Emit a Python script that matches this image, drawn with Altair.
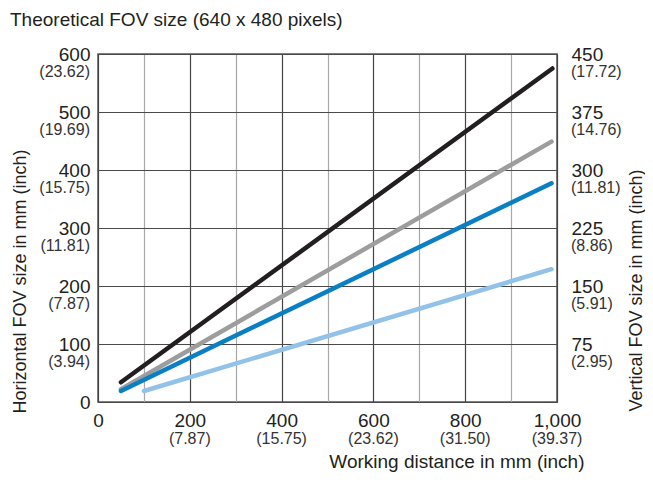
import altair as alt
import pandas as pd

# ---- data ----
series_names = ["Series 1", "Series 2", "Series 3", "Series 4"]
series_colors = ["#231f20", "#9d9d9d", "#0a7fc4", "#92c2e8"]
start_dist = [50, 50, 50, 100]
end_dist = [990, 988, 988, 988]
start_fov = [34, 22, 19, 19]
end_fov = [575, 449, 377, 229]

x_ticks = [0, 100, 200, 300, 400, 500, 600, 700, 800, 900, 1000]
x_inch_vals = [200, 400, 600, 800, 1000]
x_inch_labels = ["(7.87)", "(15.75)", "(23.62)", "(31.50)", "(39.37)"]

left_ticks = [0, 100, 200, 300, 400, 500, 600]
left_inch_vals = [100, 200, 300, 400, 500, 600]
left_inch_labels = ["(3.94)", "(7.87)", "(11.81)", "(15.75)", "(19.69)", "(23.62)"]

right_ticks = [0, 75, 150, 225, 300, 375, 450]
right_inch_vals = [75, 150, 225, 300, 375, 450]
right_inch_labels = ["(2.95)", "(5.91)", "(8.86)", "(11.81)", "(14.76)", "(17.72)"]

FONT = "Liberation Sans"
W, H = 459, 348

rows = []
for n, d0, d1, v0, v1 in zip(series_names, start_dist, end_dist, start_fov, end_fov):
    rows.append({"series": n, "d": d0, "v": v0})
    rows.append({"series": n, "d": d1, "v": v1})
lines_df = pd.DataFrame(rows)

xscale = alt.Scale(domain=[0, 1000], nice=False, zero=True)
yscale = alt.Scale(domain=[0, 600], nice=False, zero=True)
yscale_r = alt.Scale(domain=[0, 450], nice=False, zero=True)

x_axis = alt.Axis(
    values=x_ticks,
    labelExpr="datum.value % 200 === 0 ? format(datum.value, ',') : ''",
    title="Working distance in mm (inch)",
    titleFont=FONT, titleFontSize=19, titleFontWeight="normal", titleColor="#231f20",
    titleAlign="right", titleBaseline="middle", titleX=486, titleY=59,
    labelFont=FONT, labelFontSize=19, labelColor="#231f20", labelPadding=9,
    ticks=False, domain=False, grid=True,
    gridColor={"condition": {"test": "datum.value % 200 === 0", "value": "#444444"}, "value": "#a8a8a8"},
    gridWidth=1.2, labelFlush=False,
)
y_axis = alt.Axis(
    values=left_ticks,
    title="Horizontal FOV size in mm (inch)",
    titleFont=FONT, titleFontSize=18, titleFontWeight="normal", titleColor="#231f20",
    titleAngle=270, titleAlign="left", titleBaseline="middle", titleX=-78, titleY=359,
    labelFont=FONT, labelFontSize=19, labelColor="#231f20", labelPadding=8,
    ticks=False, domain=False, grid=True, gridColor="#4a4a4a", gridWidth=1.2,
)
right_axis = alt.Axis(
    orient="right", values=right_ticks,
    labelExpr="datum.value === 0 ? '' : datum.label",
    title="Vertical FOV size in mm (inch)",
    titleFont=FONT, titleFontSize=18, titleFontWeight="normal", titleColor="#231f20",
    titleAngle=270, titleAlign="left", titleBaseline="middle", titleX=79, titleY=357,
    labelFont=FONT, labelFontSize=19, labelColor="#231f20", labelPadding=14,
    ticks=False, domain=False, grid=False,
)

lines = alt.Chart(lines_df).mark_line(strokeWidth=4.5, strokeCap="round").encode(
    x=alt.X("d:Q", scale=xscale, axis=x_axis),
    y=alt.Y("v:Q", scale=yscale, axis=y_axis),
    color=alt.Color("series:N", scale=alt.Scale(domain=series_names, range=series_colors), legend=None),
    detail="series:N",
)

left_inch = alt.Chart(pd.DataFrame({"v": left_inch_vals, "t": left_inch_labels})).mark_text(
    align="right", baseline="middle", dy=18, font=FONT, fontSize=16, color="#333333"
).encode(
    x=alt.value(-8),
    y=alt.Y("v:Q", scale=yscale, axis=None),
    text="t:N",
)

bottom_inch = alt.Chart(pd.DataFrame({"d": x_inch_vals, "t": x_inch_labels})).mark_text(
    align="center", baseline="middle", font=FONT, fontSize=16, color="#333333"
).encode(
    x=alt.X("d:Q", scale=xscale, axis=x_axis),
    y=alt.value(H + 37),
    text="t:N",
)

right_inch = alt.Chart(pd.DataFrame({"v": right_inch_vals, "t": right_inch_labels})).mark_text(
    align="left", baseline="middle", dy=18, font=FONT, fontSize=16, color="#333333"
).encode(
    x=alt.value(W + 14),
    y=alt.Y("v:Q", scale=yscale_r, axis=right_axis),
    text="t:N",
)

chart = alt.layer(lines, left_inch, bottom_inch, right_inch).resolve_scale(y="independent").properties(
    width=W, height=H,
    padding={"left": 90, "top": 46, "right": 88, "bottom": 72},
    autosize=alt.AutoSizeParams(type="none"),
    title=alt.TitleParams(
        "Theoretical FOV size (640 x 480 pixels)", anchor="start", frame="group", dx=-88, offset=15,
        font=FONT, fontSize=19, fontWeight="normal", color="#231f20",
    ),
).configure_view(stroke="#555555", strokeWidth=1.5)

chart.save("out.html", embed_options={"renderer": "svg", "actions": False})
